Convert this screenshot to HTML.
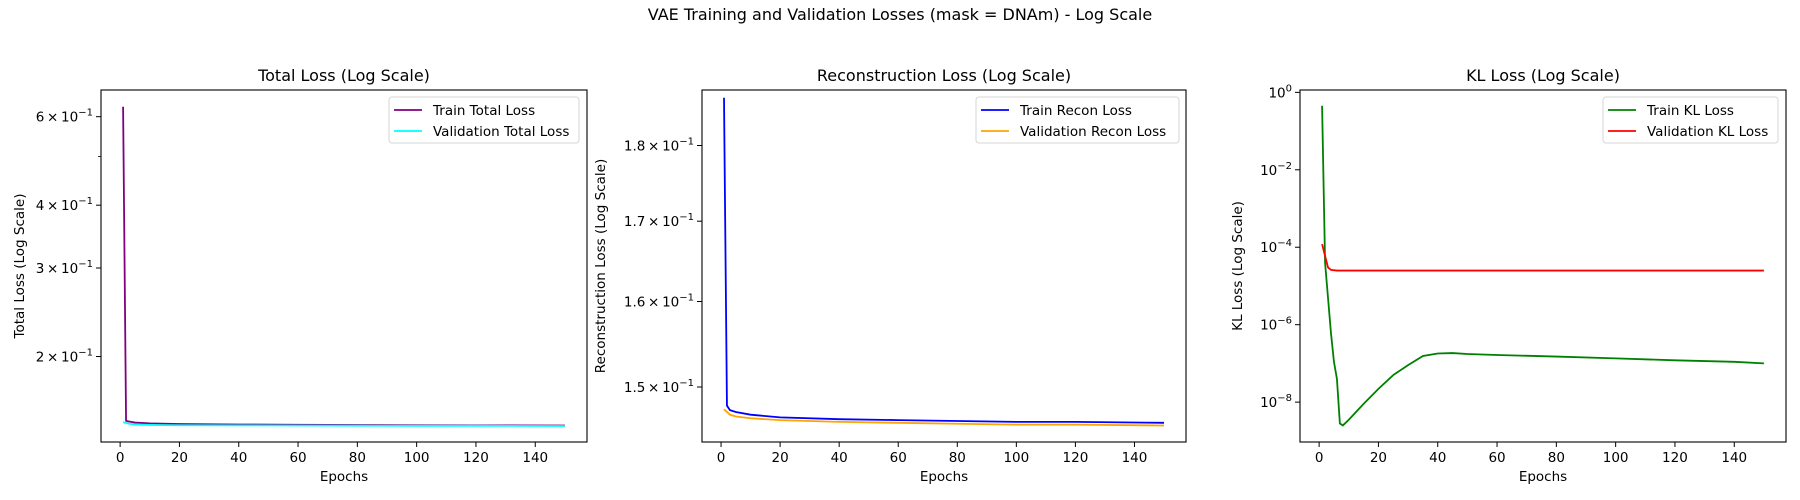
<!DOCTYPE html>
<html><head><meta charset="utf-8">
<style>
html,body{margin:0;padding:0;background:#fff;}
svg{display:block;font-family:"DejaVu Sans","Liberation Sans",sans-serif;}
</style></head>
<body>
<svg id="fig" width="1800" height="500" xmlns="http://www.w3.org/2000/svg">
<text x="900" y="20" text-anchor="middle" font-size="16">VAE Training and Validation Losses (mask = DNAm) - Log Scale</text>
</svg>
<script>
// ---- data ----
const xTicks = [0,20,40,60,80,100,120,140];
const totalEpochs = [1,2,3,5,10,20,40,60,80,100,120,150];
const trainTotal = [0.628,0.149,0.1485,0.1478,0.1472,0.1468,0.1465,0.1463,0.1461,0.1460,0.1459,0.1458];
const valTotal = [0.148,0.1475,0.147,0.1465,0.1462,0.1460,0.1459,0.1458,0.1457,0.1456,0.1456,0.1455];
const totalTickVals = [0.2,0.3,0.4,0.6];
const totalTickLabels = ["2","3","4","6"];
const totalMinorVals = [0.5];

const reconEpochs = [1,2,3,5,10,20,40,60,80,100,120,150];
const trainRecon = [0.1866,0.1479,0.1474,0.1472,0.1469,0.1466,0.1464,0.1463,0.1462,0.1461,0.1461,0.1460];
const valRecon = [0.1475,0.1472,0.1469,0.1467,0.1465,0.1463,0.1461,0.1460,0.1459,0.1458,0.1458,0.1457];
const reconTickVals = [0.15,0.16,0.17,0.18];
const reconTickLabels = ["1.5","1.6","1.7","1.8"];

const klTrainEpochs = [1,2,4,5,6,7,8,10,15,20,25,30,35,40,45,50,60,80,100,120,140,150];
const trainKL = [0.45,4e-5,6e-7,1.1e-7,4e-8,2.8e-9,2.5e-9,3.5e-9,9e-9,2.2e-8,5e-8,9e-8,1.55e-7,1.8e-7,1.85e-7,1.75e-7,1.65e-7,1.5e-7,1.35e-7,1.2e-7,1.1e-7,1.0e-7];
const klValEpochs = [1,2,3,4,6,10,50,100,150];
const valKL = [1.2e-4,6e-5,3e-5,2.6e-5,2.5e-5,2.5e-5,2.5e-5,2.5e-5,2.5e-5];
const klTickExps = [0,-2,-4,-6,-8];

// ---- drawing ----
const NS="http://www.w3.org/2000/svg";
const svg=document.getElementById('fig');
function mk(tag,attrs,parent){const e=document.createElementNS(NS,tag);for(const k in attrs)e.setAttribute(k,attrs[k]);(parent||svg).appendChild(e);return e;}

const TOP=90,BOT=442,XMIN=-6.45,XMAX=157.45;
function panel(p){
  const g=mk('g',{});
  
  
  const L=p.left,R=p.right;
  const xs=v=>L+(v-XMIN)/(XMAX-XMIN)*(R-L);
  const lt=Math.log10(p.ymax),lb=Math.log10(p.ymin);
  const ys=v=>TOP+(lt-Math.log10(v))/(lt-lb)*(BOT-TOP);
  p.series.forEach(s=>{
    const d=s.x.map((e,i)=>(i?'L':'M')+xs(e).toFixed(2)+' '+ys(s.y[i]).toFixed(2)).join(' ');
    const pa=mk('path',{d:d,fill:'none',stroke:s.color,'stroke-width':1.8},g);
    
    
  });
  const fr=mk('rect',{x:L,y:TOP,width:R-L,height:BOT-TOP,fill:'none',stroke:'#000','stroke-width':1.1},g);
  
  
  xTicks.forEach(t=>{
    const x=xs(t);
    mk('line',{x1:x,x2:x,y1:BOT,y2:BOT+5,stroke:'#000','stroke-width':1},g);
    const tx=mk('text',{x:x,y:BOT+20,'text-anchor':'middle','font-size':13.5},g);
    tx.textContent=t;
    
    
  });
  p.yticks.forEach((t,i)=>{
    const y=ys(t);
    mk('line',{x1:L-5,x2:L,y1:y,y2:y,stroke:'#000','stroke-width':1},g);
    const tx=mk('text',{x:L-8,y:y+5,'text-anchor':'end','font-size':13.5},g);
    
    
    if(p.mant){
      const a=mk('tspan',{},tx);a.textContent=p.mant[i]+'\u2009\u00d7\u200910';
      const b=mk('tspan',{dy:-6,'font-size':10},tx);b.textContent='\u22121';
    }else{
      const a=mk('tspan',{},tx);a.textContent='10';
      const b=mk('tspan',{dy:-6,'font-size':10},tx);b.textContent=p.exps[i]===0?'0':'\u2212'+(-p.exps[i]);
    }
  });
  (p.minor||[]).forEach(t=>{const y=ys(t);mk('line',{x1:L-3,x2:L,y1:y,y2:y,stroke:'#000','stroke-width':0.8},g);});
  const ti=mk('text',{x:(L+R)/2,y:TOP-9,'text-anchor':'middle','font-size':16},g);ti.textContent=p.title;
  
  const xl=mk('text',{x:(L+R)/2,y:BOT+39,'text-anchor':'middle','font-size':13.5},g);xl.textContent='Epochs';
  
  const yl=mk('text',{x:0,y:0,'text-anchor':'middle','font-size':13.5,transform:`translate(${p.ylabX},${(TOP+BOT)/2}) rotate(-90)`},g);yl.textContent=p.ylabel;
  
  const lg=mk('g',{},g);
  
  mk('rect',{x:p.leg[0],y:97,width:p.leg[1]-p.leg[0],height:46,rx:3,fill:'#fff',stroke:'#d6d6d6','stroke-width':1,'fill-opacity':0.8},lg);
  p.series.forEach((s,i)=>{
    const yy=110+i*21;
    mk('line',{x1:p.leg[0]+5,x2:p.leg[0]+33,y1:yy,y2:yy,stroke:s.color,'stroke-width':1.8},lg);
    const t=mk('text',{x:p.leg[0]+44,y:yy+5,'font-size':13.5},lg);t.textContent=s.label;
    
  });
}

panel({name:'total-loss-panel',left:101,right:587,ymin:0.1352,ymax:0.678,
  yticks:totalTickVals,mant:totalTickLabels,minor:totalMinorVals,
  title:'Total Loss (Log Scale)',ylabel:'Total Loss (Log Scale)',ylabX:24,leg:[389,579],
  series:[{id:'train-total-line',label:'Train Total Loss',color:'#800080',x:totalEpochs,y:trainTotal},
          {id:'val-total-line',label:'Validation Total Loss',color:'#00ffff',x:totalEpochs,y:valTotal}]});
panel({name:'recon-loss-panel',left:702,right:1186,ymin:0.1439,ymax:0.1877,
  yticks:reconTickVals,mant:reconTickLabels,
  title:'Reconstruction Loss (Log Scale)',ylabel:'Reconstruction Loss (Log Scale)',ylabX:605,leg:[976,1179],
  series:[{id:'train-recon-line',label:'Train Recon Loss',color:'#0000ff',x:reconEpochs,y:trainRecon},
          {id:'val-recon-line',label:'Validation Recon Loss',color:'#ffa500',x:reconEpochs,y:valRecon}]});
panel({name:'kl-loss-panel',left:1300,right:1786,ymin:Math.pow(10,-9.03),ymax:1.15,
  yticks:klTickExps.map(e=>Math.pow(10,e)),exps:klTickExps,
  title:'KL Loss (Log Scale)',ylabel:'KL Loss (Log Scale)',ylabX:1242,leg:[1603,1778],
  series:[{id:'train-kl-line',label:'Train KL Loss',color:'#008000',x:klTrainEpochs,y:trainKL},
          {id:'val-kl-line',label:'Validation KL Loss',color:'#ff0000',x:klValEpochs,y:valKL}]});
</script>
</body></html>
